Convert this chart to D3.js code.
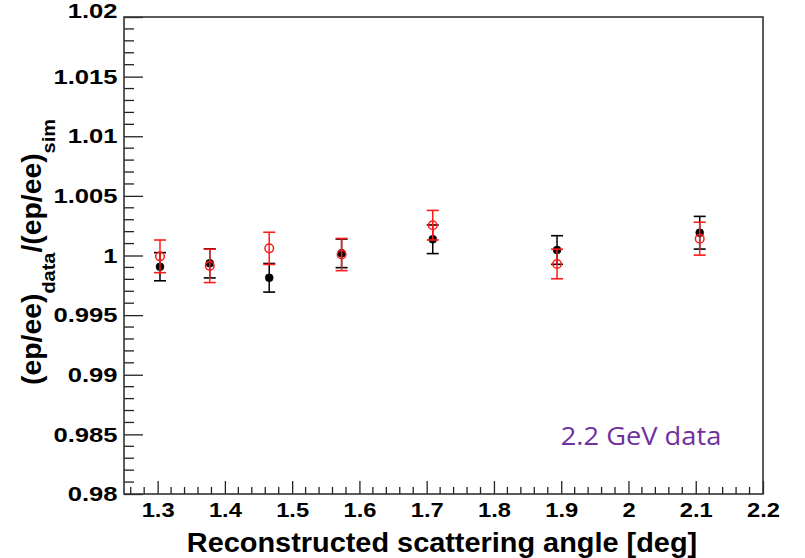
<!DOCTYPE html>
<html><head><meta charset="utf-8">
<script src="https://cdn.jsdelivr.net/npm/d3@7"></script>
<style>
html,body{margin:0;padding:0;background:#fff;}
svg{display:block;}
</style></head>
<body>
<svg id="c" width="805" height="558"></svg>
<script>
// ---- data ----
const angles      = [1.3035, 1.3775, 1.4659, 1.5735, 1.7090, 1.8938, 2.1059];
const blackValues = [0.99906, 0.99934, 0.99813, 1.00018, 1.00136, 1.00046, 1.00191];
const blackErrors = [0.00118, 0.00122, 0.00120, 0.00120, 0.00120, 0.00120, 0.00137];
const redValues   = [0.99993, 0.99913, 1.00060, 1.00008, 1.00254, 0.99929, 1.00141];
const redErrors   = [0.00137, 0.00140, 0.00135, 0.00135, 0.00124, 0.00124, 0.00138];
const xTickLabels = ["1.3","1.4","1.5","1.6","1.7","1.8","1.9","2","2.1","2.2"];
const yTickLabels = ["0.98","0.985","0.99","0.995","1","1.005","1.01","1.015","1.02"];

const svg = d3.select("#c");
const L = 124, R = 763, T = 17, B = 494;
const x = d3.scaleLinear().domain([1.25, 2.2]).range([L, R]);
const y = d3.scaleLinear().domain([0.98, 1.02]).range([B, T]);
const font = "'Liberation Sans', Arial, Helvetica, sans-serif";

// minor ticks
const xMinor = d3.range(1.26, 2.2001, 0.02).filter(v => Math.abs(v*10 - Math.round(v*10)) > 1e-6);
const yMinor = d3.range(0.981, 1.0200, 0.001).filter(v => Math.abs(v*200 - Math.round(v*200)) > 1e-6);

const g = svg.append("g");
g.selectAll("line.xm").data(xMinor).enter().append("line")
  .attr("x1", d => x(d)).attr("x2", d => x(d)).attr("y1", B).attr("y2", B - 7)
  .attr("stroke", "#222").attr("stroke-width", 1.3);
g.selectAll("line.ym").data(yMinor).enter().append("line")
  .attr("x1", L).attr("x2", L + 10).attr("y1", d => y(d)).attr("y2", d => y(d))
  .attr("stroke", "#222").attr("stroke-width", 1.3);

// major axes
const xs = 1.13, ys = 1.22, yPad = 6.5;
const xAxis = d3.axisBottom(x).tickValues(xTickLabels.map(Number)).tickFormat((d,i) => xTickLabels[i]).tickSize(-13).tickPadding(8);
const yAxis = d3.axisLeft(y).tickValues(yTickLabels.map(Number)).tickFormat((d,i) => yTickLabels[i]).tickSize(-19).tickPadding(yPad);
const gx = svg.append("g").attr("transform", `translate(0,${B})`).call(xAxis);
const gy = svg.append("g").attr("transform", `translate(${L},0)`).call(yAxis);
[gx, gy].forEach(a => {
  a.select(".domain").remove();
  a.selectAll(".tick line").attr("stroke", "#222").attr("stroke-width", 1.3);
  a.selectAll(".tick text").attr("font-family", font).attr("font-weight", "bold")
    .attr("font-size", 21).attr("fill", "#000");
});
gx.selectAll(".tick text").attr("transform", `scale(${xs},1)`);
gy.selectAll(".tick text").attr("x", -yPad / ys).attr("transform", `scale(${ys},1)`);
// top label sits just below the frame's top edge line in the reference
gy.selectAll(".tick text").filter((d, i) => i === yTickLabels.length - 1).attr("y", -6);

// frame
svg.append("rect").attr("x", L).attr("y", T).attr("width", R - L).attr("height", B - T)
  .attr("fill", "none").attr("stroke", "#333").attr("stroke-width", 1.6);

// error bars + markers
function series(vals, errs, color, filled) {
  const s = svg.append("g");
  const d = angles.map((a, i) => ({a, v: vals[i], e: errs[i]}));
  s.selectAll("line.v").data(d).enter().append("line")
    .attr("x1", p => x(p.a)).attr("x2", p => x(p.a))
    .attr("y1", p => y(p.v + p.e)).attr("y2", p => y(p.v - p.e))
    .attr("stroke", color).attr("stroke-width", 1.5);
  ["+", "-"].forEach(sg => {
    s.selectAll("line.c" + (sg === "+" ? "t" : "b")).data(d).enter().append("line")
      .attr("x1", p => x(p.a) - 6).attr("x2", p => x(p.a) + 6)
      .attr("y1", p => y(sg === "+" ? p.v + p.e : p.v - p.e))
      .attr("y2", p => y(sg === "+" ? p.v + p.e : p.v - p.e))
      .attr("stroke", color).attr("stroke-width", 1.6);
  });
  s.selectAll("circle").data(d).enter().append("circle")
    .attr("cx", p => x(p.a)).attr("cy", p => y(p.v))
    .attr("r", filled ? 4 : 4.3)
    .attr("fill", filled ? color : "none")
    .attr("stroke", color).attr("stroke-width", filled ? 0.5 : 1.5);
}
series(blackValues, blackErrors, "#000", true);
series(redValues, redErrors, "#ff1a1a", false);

// annotation
svg.append("text").attr("transform", "translate(641,445) scale(1.07,1)").attr("text-anchor", "middle")
  .attr("font-family", "'Open Sans', Lato, sans-serif").attr("font-size", 25.5)
  .attr("fill", "#7030a0").text("2.2 GeV data");

// x title
svg.append("text").attr("transform", "translate(442,552) scale(1.07,1)").attr("text-anchor", "middle")
  .attr("font-family", font).attr("font-weight", "bold").attr("font-size", 27)
  .attr("fill", "#000").text("Reconstructed scattering angle [deg]");

// y title
const yt = svg.append("text").attr("transform", "translate(41,252) rotate(-90) scale(1.05,1)")
  .attr("text-anchor", "middle").attr("font-family", font).attr("font-weight", "bold")
  .attr("font-size", 27).attr("fill", "#000");
yt.append("tspan").text("(ep/ee)");
yt.append("tspan").attr("font-size", 19).attr("dy", 14).text("data");
yt.append("tspan").attr("dy", -14).text("/(ep/ee)");
yt.append("tspan").attr("font-size", 19).attr("dy", 14).text("sim");
</script>
</body></html>
